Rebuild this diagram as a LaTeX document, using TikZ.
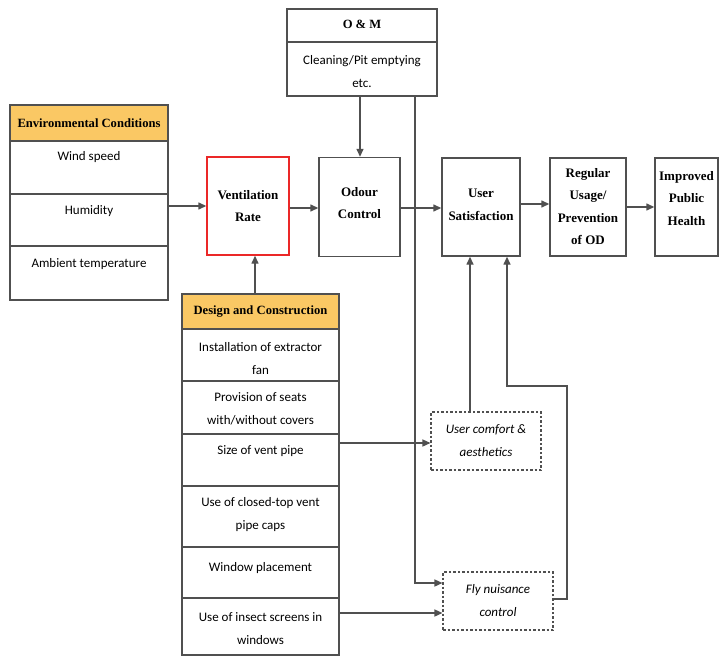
\documentclass[tikz,border=0pt]{standalone}
\usepackage{fontspec}
\setmainfont{Liberation Serif}
\newfontfamily\calfont{Carlito}
\usetikzlibrary{arrows.meta}
\definecolor{hdr}{RGB}{250,200,100}
\definecolor{ln}{RGB}{80,80,80}
\definecolor{vred}{RGB}{235,40,40}
\begin{document}
\begin{tikzpicture}[x=1pt,y=-1pt,
  box/.style={draw=ln,line width=1.4pt,fill=white,inner sep=0pt},
  hbox/.style={box,fill=hdr},
  dbox/.style={draw=ln,line width=1.1pt,dash pattern=on 2.5pt off 2pt,inner sep=0pt},
  ttl/.style={font=\bfseries\fontsize{12.6}{13}\selectfont,align=center,inner sep=0pt},
  lab/.style={font=\calfont\fontsize{13}{23}\selectfont,align=center,inner sep=0pt},
  ilab/.style={font=\calfont\itshape\fontsize{13}{23}\selectfont,align=center,inner sep=0pt},
  conn/.style={draw=ln,line width=1.4pt},
  arr/.style={conn,-{Triangle[length=8pt,width=7pt]}}]
\useasboundingbox (0,0) rectangle (720,658);
% Environmental conditions
\path[hbox] (10,105) rectangle (168,141);
\node[ttl] at (89,123) {Environmental Conditions};
\path[box] (10,141) rectangle (168,194); \coordinate (env) at (168,206);
\path[box] (10,194) rectangle (168,246);
\path[box] (10,246) rectangle (168,300);
\node[lab] at (89,157) {Wind speed};
\node[lab] at (89,211) {Humidity};
\node[lab] at (89,264) {Ambient temperature};
% Ventilation
\node[draw=vred,line width=1.4pt,minimum width=82pt,minimum height=98pt,inner sep=0pt] (vr) at (248,206) {};
\node[ttl,font=\bfseries\fontsize{13}{22}\selectfont] at (248,206) {Ventilation\\Rate};
% O&M
\node[box,minimum width=150pt,minimum height=33pt] (omh) at (362,25.5) {};
\node[ttl] at (362,24) {O \& M};
\node[box,minimum width=150pt,minimum height=54pt] (om) at (362,69) {};
\node[lab] at (362,72) {Cleaning/Pit emptying\\etc.};
% Odour
\node[box,minimum width=81pt,minimum height=99pt] (od) at (359.5,207) {};
\node[ttl,font=\bfseries\fontsize{13}{22}\selectfont] at (359.5,203) {Odour\\Control};
% User satisfaction
\node[box,minimum width=78pt,minimum height=98pt] (us) at (481,207) {};
\node[ttl,font=\bfseries\fontsize{13}{23}\selectfont] at (481,204.5) {User\\Satisfaction};
% Regular
\node[box,minimum width=76pt,minimum height=98pt] (rg) at (588,207) {};
\node[ttl,font=\bfseries\fontsize{13}{22.3}\selectfont] at (588,206.5) {Regular\\Usage/\\Prevention\\of OD};
% Improved
\node[box,minimum width=63pt,minimum height=98pt] (ih) at (686.5,207) {};
\node[ttl,font=\bfseries\fontsize{13}{22.5}\selectfont] at (686.5,198.5) {Improved\\Public\\Health};
% Design and construction
\path[hbox] (182,294) rectangle (339,329);
\node[ttl] at (260.5,311.5) {Design and Construction};
\path[box] (182,329) rectangle (339,381);
\path[box] (182,381) rectangle (339,434);
\path[box] (182,434) rectangle (339,486);
\path[box] (182,486) rectangle (339,547);
\path[box] (182,547) rectangle (339,598);
\path[box] (182,598) rectangle (339,655);
\coordinate (dc) at (255,294);
\coordinate (vp) at (339,443);
\coordinate (is) at (339,613);
\node[lab] at (260.5,359) {Installation of extractor\\fan};
\node[lab] at (260.5,409) {Provision of seats\\with/without covers};
\node[lab] at (260.5,451) {Size of vent pipe};
\node[lab] at (260.5,515) {Use of closed-top vent\\pipe caps};
\node[lab] at (260.5,568) {Window placement};
\node[lab] at (260.5,629) {Use of insect screens in\\windows};
% dashed boxes
\node[dbox,minimum width=110pt,minimum height=58pt] (uc) at (486,441) {};
\node[ilab] at (486,441) {User comfort \&\\aesthetics};
\node[dbox,minimum width=110pt,minimum height=58pt] (fn) at (498,601) {};
\node[ilab] at (498,601) {Fly nuisance\\control};
% connectors
\draw[arr] (env) -- (env -| vr.west);
\draw[arr] (dc) -- (dc |- vr.south);
\draw[arr] (vr.east |- 0,208) -- (od.west |- 0,208);
\draw[arr] (om.south -| 360,0) -- (od.north -| 360,0);
\draw[arr] (od.east |- 0,208) -- (us.west |- 0,208);
\draw[arr] (us.east |- 0,204) -- (rg.west |- 0,204);
\draw[arr] (rg.east |- 0,207) -- (ih.west |- 0,207);
\draw[arr] (om.south -| 415,0) -- (415,583) -- (fn.west |- 0,583);
\draw[arr] (vp) -- (vp -| uc.west);
\draw[arr] (is) -- (is -| fn.west);
\draw[arr] (uc.north -| 470,0) -- (us.south -| 470,0);
\draw[arr] (fn.east |- 0,599) -- (567,599) -- (567,386) -- (507,386) -- (us.south -| 507,0);
\end{tikzpicture}
\end{document}
